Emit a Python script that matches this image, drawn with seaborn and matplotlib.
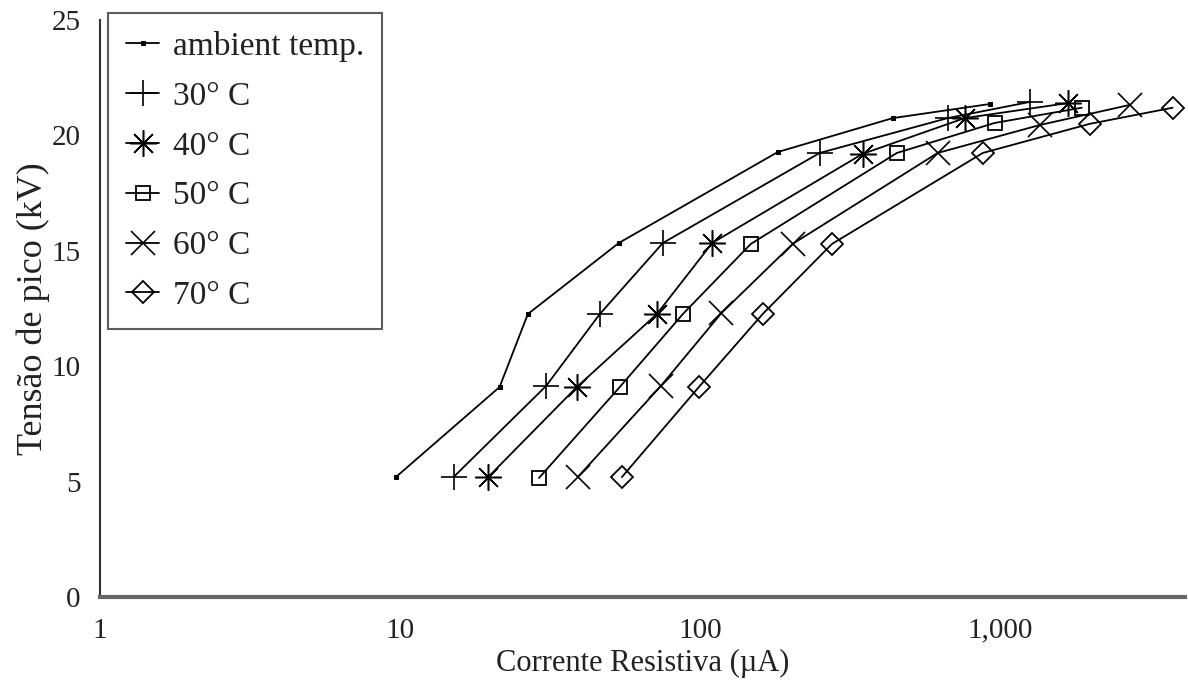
import pandas as pd
import matplotlib.pyplot as plt
import seaborn as sns

# dados (corrente em uA, tensao em kV)
amb_x = [9.7, 21.5, 26.7, 53.7, 182, 440, 926]
amb_y = [5.2, 9.1, 12.26, 15.34, 19.28, 20.75, 21.36]

t30_x = [15.1, 30.7, 46.4, 75.3, 251, 671, 1259]
t30_y = [5.2, 9.14, 12.26, 15.34, 19.24, 20.75, 21.45]

t40_x = [19.7, 38.9, 71.9, 110, 349, 764, 1686]
t40_y = [5.2, 9.1, 12.26, 15.34, 19.2, 20.75, 21.4]

t50_x = [29.1, 54.1, 87.8, 148, 454, 962, 1877]
t50_y = [5.16, 9.1, 12.26, 15.3, 19.24, 20.54, 21.2]

t60_x = [39.2, 74.1, 118, 204, 621, 1360, 2712]
t60_y = [5.2, 9.14, 12.3, 15.3, 19.24, 20.45, 21.32]

t70_x = [55, 99.3, 162, 276, 878, 1995, 3773]
t70_y = [5.2, 9.1, 12.26, 15.3, 19.24, 20.5, 21.2]

labels = ['ambient temp.', '30° C', '40° C', '50° C', '60° C', '70° C']
xticks = [1, 10, 100, 1000]
xtick_labels = ['1', '10', '100', '1,000']
yticks = [0, 5, 10, 15, 20, 25]

series = [(amb_x, amb_y), (t30_x, t30_y), (t40_x, t40_y),
          (t50_x, t50_y), (t60_x, t60_y), (t70_x, t70_y)]
estilos = [
    dict(marker='s', markersize=3.5, markerfacecolor='black'),
    dict(marker='+', markersize=19, markeredgewidth=1.2),
    dict(marker=(8, 2, 0), markersize=19, markeredgewidth=1.1),
    dict(marker='s', markersize=10, markerfacecolor='none', markeredgewidth=1.3),
    dict(marker='x', markersize=17, markeredgewidth=1.2),
    dict(marker='D', markersize=11, markerfacecolor='none', markeredgewidth=1.3),
]

sns.set_style('white')
plt.rcParams['font.family'] = ['Liberation Serif', 'DejaVu Serif']
plt.rcParams['font.size'] = 21

fig = plt.figure(figsize=(11.88, 6.81), dpi=100)
ax = fig.add_axes([0.0842, 0.1233, 0.9133, 0.8473])

for (xs, ys), lab, st in zip(series, labels, estilos):
    df = pd.DataFrame({'x': xs, 'y': ys})
    sns.lineplot(data=df, x='x', y='y', ax=ax, color='black', linewidth=1.3,
                 markeredgecolor='black', label=lab, **st)

ax.set_xscale('log')
ax.set_xlim(1, 4150)
ax.set_ylim(0, 25)
ax.set_xticks(xticks)
ax.set_xticklabels(xtick_labels)
ax.xaxis.set_minor_locator(plt.NullLocator())
ax.set_yticks(yticks)
ax.tick_params(axis='both', length=0, labelsize=21, colors='#222222')
ax.tick_params(axis='x', pad=15)
ax.tick_params(axis='y', pad=14)

ax.set_xlabel('Corrente Resistiva (µA)', fontsize=22, color='#222222', labelpad=4)
ax.set_ylabel('Tensão de pico (kV)', fontsize=26, color='#222222', labelpad=1)

for s in ['top', 'right']:
    ax.spines[s].set_visible(False)
ax.spines['left'].set_color('#333333')
ax.spines['left'].set_linewidth(1.5)
ax.spines['bottom'].set_color('#666666')
ax.spines['bottom'].set_linewidth(3)

leg = ax.legend(loc='upper left', bbox_to_anchor=(0.007, 1.013), borderaxespad=0,
                fontsize=24, frameon=True, fancybox=False, handlelength=1.0,
                handletextpad=0.4, labelspacing=0.58, borderpad=0.55)
leg.get_frame().set_edgecolor('#333333')
leg.get_frame().set_linewidth(1.5)
for t in leg.get_texts():
    t.set_color('#222222')

fig.savefig('out.png', dpi=100)
